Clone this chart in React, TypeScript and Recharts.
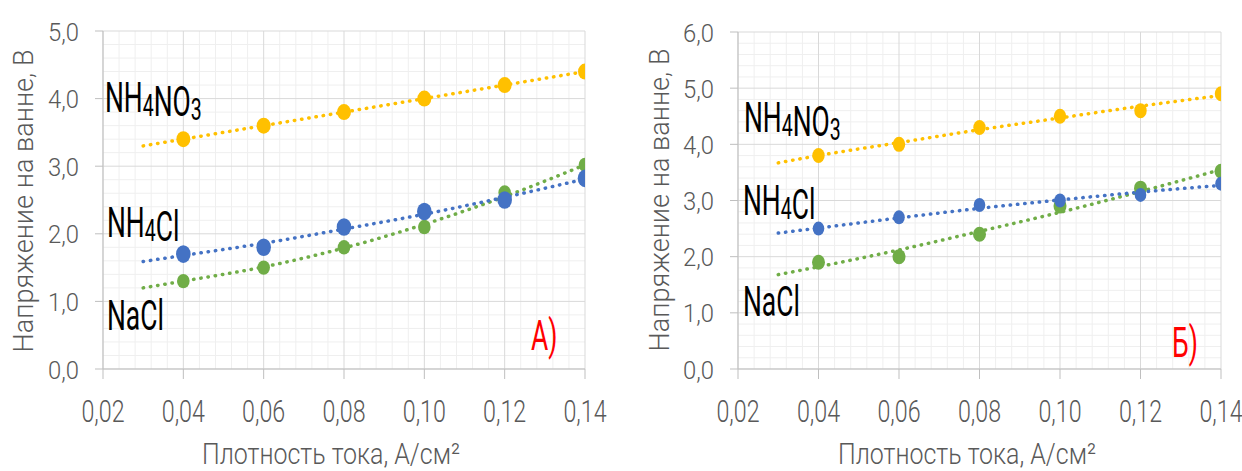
import { CartesianGrid, ComposedChart, Line, Scatter, XAxis, YAxis } from "recharts";

// плотность тока, А/см2
const PLOTNOST = [0.04, 0.06, 0.08, 0.1, 0.12, 0.14];
const X_TICKS = [0.02, 0.04, 0.06, 0.08, 0.1, 0.12, 0.14];
const TREND_X = [0.03, 0.04, 0.06, 0.08, 0.1, 0.12, 0.14];

// А) напряжение на ванне, В
const A_NH4NO3 = [3.4, 3.6, 3.8, 4.0, 4.2, 4.4];
const A_NH4CL = [1.7, 1.8, 2.1, 2.33, 2.5, 2.82];
const A_NACL = [1.3, 1.5, 1.8, 2.1, 2.61, 3.02];
const A_TREND_NH4NO3 = [3.3, 3.4, 3.6, 3.8, 4.0, 4.2, 4.4];
const A_TREND_NH4CL = [1.59, 1.68, 1.86, 2.07, 2.29, 2.54, 2.81];
const A_TREND_NACL = [1.2, 1.3, 1.51, 1.79, 2.14, 2.55, 3.02];
const A_Y_TICKS = [0, 1, 2, 3, 4, 5];

// Б)
const B_NH4NO3 = [3.8, 4.0, 4.3, 4.5, 4.6, 4.9];
const B_NH4CL = [2.5, 2.7, 2.92, 3.0, 3.1, 3.3];
const B_NACL = [1.9, 2.0, 2.4, 2.9, 3.22, 3.52];
const B_TREND_NH4NO3 = [3.67, 3.8, 4.03, 4.26, 4.47, 4.68, 4.87];
const B_TREND_NH4CL = [2.42, 2.51, 2.69, 2.86, 3.01, 3.15, 3.27];
const B_TREND_NACL = [1.68, 1.82, 2.12, 2.45, 2.79, 3.16, 3.55];
const B_Y_TICKS = [0, 1, 2, 3, 4, 5, 6];

const YELLOW = "#ffc000";
const BLUE = "#4472c4";
const GREEN = "#70ad47";
const FONT = "Roboto, 'DejaVu Sans', sans-serif";

const pts = (xs: number[], ys: number[]) => xs.map((x, i) => ({ x, y: ys[i] }));
const fmt = (v: number, d: number) => v.toFixed(d).replace(".", ",");

const minorX: number[] = [];
for (let i = 0; i <= 30; i++) if (i % 5) minorX.push(+(0.02 + i * 0.004).toFixed(3));
const minorY = (max: number) => {
  const out: number[] = [];
  for (let i = 0; i <= max * 5; i++) if (i % 5) out.push(+(i * 0.2).toFixed(1));
  return out;
};

function XTick(props: any) {
  const { x, y, payload } = props;
  return (
    <g transform={`translate(${x},${y + 43}) scale(0.75,1)`}>
      <text x={0} y={0} textAnchor="middle" fontFamily={FONT} fontWeight={300} fontSize={31} fill="#595959">
        {fmt(payload.value, 2)}
      </text>
    </g>
  );
}

function YTick(props: any) {
  const { x, y, payload } = props;
  return (
    <g transform={`translate(${x - 16},${y + 9.5}) scale(0.9,1)`}>
      <text x={0} y={0} textAnchor="end" fontFamily={FONT} fontWeight={300} fontSize={26.5} fill="#595959">
        {fmt(payload.value, 1)}
      </text>
    </g>
  );
}

type Seria = { key: string; color: string; values: number[]; trend: number[]; rx: number; ry: number };

function Panel({ series, yMax, yTicks, top, yWidth, right }: { series: Seria[]; yMax: number; yTicks: number[]; top: number; yWidth: number; right: number }) {
  return (
    <ComposedChart width={621} height={471} margin={{ top, right, bottom: 0, left: 0 }}>
      <CartesianGrid stroke="#efefef" horizontalValues={minorY(yMax)} verticalValues={minorX} />
      <CartesianGrid stroke="#d9d9d9" />
      <XAxis
        type="number"
        dataKey="x"
        domain={[0.02, 0.14]}
        ticks={X_TICKS}
        height={102}
        tickSize={10}
        tickMargin={0}
        stroke="#bfbfbf"
        tick={<XTick />}
        interval={0}
        allowDataOverflow
      />
      <YAxis
        type="number"
        dataKey="y"
        domain={[0, yMax]}
        ticks={yTicks}
        width={yWidth}
        tickSize={8}
        tickMargin={0}
        stroke="#bfbfbf"
        tick={<YTick />}
        interval={0}
        allowDataOverflow
      />
      {series.map((s) => (
        <Scatter
          key={s.key}
          data={pts(PLOTNOST, s.values)}
          dataKey="y"
          isAnimationActive={false}
          shape={(p: any) => <ellipse cx={p.cx} cy={p.cy} rx={s.rx} ry={s.ry} fill={s.color} />}
        />
      ))}
      {series.map((s) => (
        <Line
          key={s.key + "-trend"}
          data={pts(TREND_X, s.trend)}
          dataKey="y"
          type="monotone"
          stroke={s.color}
          strokeWidth={3.5}
          strokeDasharray="0.4 6.9"
          strokeLinecap="round"
          dot={false}
          activeDot={false}
          isAnimationActive={false}
        />
      ))}
    </ComposedChart>
  );
}

function Chem({ x, y, parts, color = "#000" }: { x: number; y: number; parts: [string, string?][]; color?: string }) {
  return (
    <g transform={`translate(${x},${y}) scale(0.63,1)`}>
      <text x={0} y={0} fontFamily={FONT} fontSize={42} fill={color}>
        {parts.map(([main, sub], i) => (
          <tspan key={i}>
            <tspan dy={0}>{main}</tspan>
            {sub ? (
              <>
                <tspan fontSize={31} dy={4}>{sub}</tspan>
                <tspan dy={-4}></tspan>
              </>
            ) : null}
          </tspan>
        ))}
      </text>
    </g>
  );
}

const seriesA: Seria[] = [
  { key: "NaCl", color: GREEN, values: A_NACL, trend: A_TREND_NACL, rx: 6.3, ry: 7.2 },
  { key: "NH4Cl", color: BLUE, values: A_NH4CL, trend: A_TREND_NH4CL, rx: 7.3, ry: 8.8 },
  { key: "NH4NO3", color: YELLOW, values: A_NH4NO3, trend: A_TREND_NH4NO3, rx: 7, ry: 8 },
];
const seriesB: Seria[] = [
  { key: "NaCl", color: GREEN, values: B_NACL, trend: B_TREND_NACL, rx: 6.5, ry: 7.5 },
  { key: "NH4Cl", color: BLUE, values: B_NH4CL, trend: B_TREND_NH4CL, rx: 5.8, ry: 7 },
  { key: "NH4NO3", color: YELLOW, values: B_NH4NO3, trend: B_TREND_NH4NO3, rx: 6.2, ry: 7.5 },
];

export default function App() {
  const title = { fontFamily: FONT, fontWeight: 300, fill: "#595959", lengthAdjust: "spacingAndGlyphs" as const };
  return (
    <div style={{ position: "absolute", left: 0, top: 0, width: 1242, height: 471, background: "#fff" }}>
      <div style={{ position: "absolute", left: 0, top: 0 }}>
        <Panel series={seriesA} yMax={5} yTicks={A_Y_TICKS} top={31} yWidth={103} right={36} />
      </div>
      <div style={{ position: "absolute", left: 621, top: 0 }}>
        <Panel series={seriesB} yMax={6} yTicks={B_Y_TICKS} top={32} yWidth={117} right={21} />
      </div>
      <svg width={1242} height={471} style={{ position: "absolute", left: 0, top: 0, pointerEvents: "none" }}>
        <text x={331} y={464} textAnchor="middle" fontSize={30} textLength={258} {...title}>Плотность тока, А/см²</text>
        <text x={967} y={464} textAnchor="middle" fontSize={30} textLength={258} {...title}>Плотность тока, А/см²</text>
        <text transform="translate(33,201) rotate(-90)" textAnchor="middle" fontSize={28} textLength={303} {...title}>Напряжение на ванне, В</text>
        <text transform="translate(669,200) rotate(-90)" textAnchor="middle" fontSize={28} textLength={303} {...title}>Напряжение на ванне, В</text>

        <Chem x={105} y={112} parts={[["NH", "4"], ["NO", "3"]]} />
        <Chem x={107} y={237} parts={[["NH", "4"], ["Cl"]]} />
        <Chem x={107} y={330} parts={[["NaCl"]]} />
        <Chem x={531} y={350} parts={[["А)"]]} color="#ff0000" />

        <Chem x={744} y={132} parts={[["NH", "4"], ["NO", "3"]]} />
        <Chem x={743} y={215} parts={[["NH", "4"], ["Cl"]]} />
        <Chem x={743} y={316} parts={[["NaCl"]]} />
        <Chem x={1172} y={357} parts={[["Б)"]]} color="#ff0000" />
      </svg>
    </div>
  );
}
